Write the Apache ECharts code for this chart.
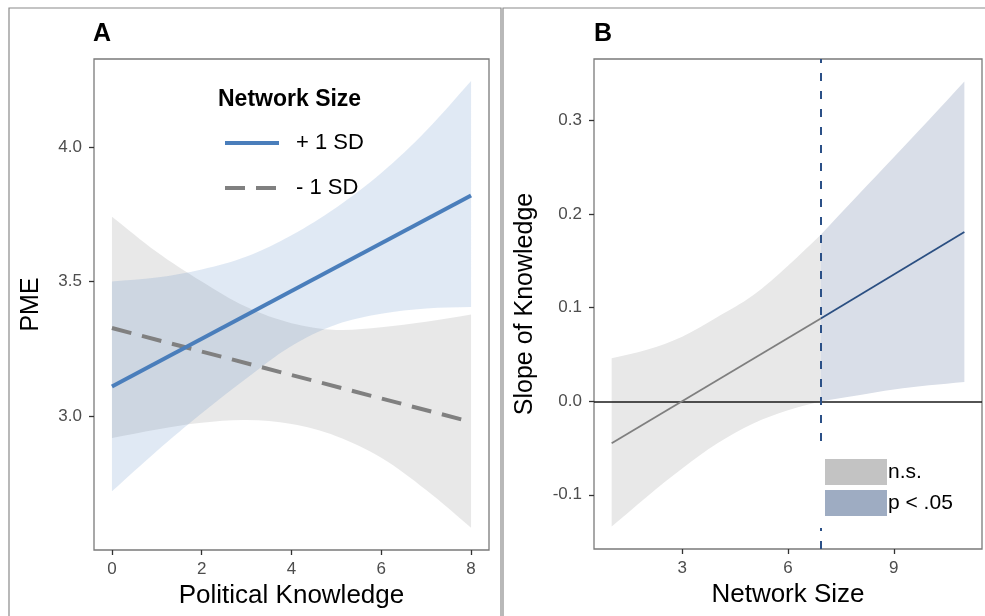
<!DOCTYPE html>
<html lang="en">
<head>
    <meta charset="UTF-8">
    <title>PME and network size</title>
    <script src="https://cdn.jsdelivr.net/npm/echarts@6/dist/echarts.min.js"></script>
    <style>
        html, body {margin: 0; padding: 0; background: #fff;}
        #main {width: 985px; height: 616px;}
    </style>
</head>
<body>
<div id="main"></div>
<script>
    // panel A: PME by political knowledge, +1 SD / -1 SD network size
    var knowledge = [0, 1, 2, 3, 4, 5, 6, 7, 8];
    var plusLo = [2.72, 2.87, 3.01, 3.14, 3.26, 3.34, 3.38, 3.40, 3.405];
    var plusHi = [3.50, 3.515, 3.545, 3.593, 3.672, 3.775, 3.903, 4.06, 4.245];
    var minusLo = [2.918, 2.95, 2.975, 2.985, 2.97, 2.925, 2.845, 2.725, 2.585];
    var minusHi = [3.741, 3.61, 3.50, 3.405, 3.345, 3.32, 3.33, 3.35, 3.377];
    var lineX = [0, 8];
    var plusLine = [3.11, 3.82];
    var minusLine = [3.327, 2.978];

    // panel B: slope of knowledge by network size
    var cutoff = 6.93;
    var sizeNs = [1, 2, 3, 4, 5, 6, 6.93];
    var slopeNsLo = [-0.134, -0.102, -0.072, -0.045, -0.024, -0.0096, 0.0];
    var slopeNsHi = [0.046, 0.055, 0.069, 0.090, 0.113, 0.145, 0.178];
    var sizeSig = [6.93, 8, 9, 10, 11];
    var slopeSigLo = [0.0, 0.0064, 0.0125, 0.017, 0.0207];
    var slopeSigHi = [0.178, 0.221, 0.261, 0.301, 0.342];
    var nsLineX = [1, 6.93];
    var nsLine = [-0.045, 0.0885];
    var sigLineX = [6.93, 11];
    var sigLine = [0.0885, 0.181];

    // tick labels
    var ticksAx = [0, 2, 4, 6, 8];
    var ticksAy = [3.0, 3.5, 4.0];
    var ticksBx = [3, 6, 9];
    var ticksBy = [-0.1, 0.0, 0.1, 0.2, 0.3];

    var font = 'Liberation Sans, Arial, sans-serif';

    function pairs(xs, ys) {
        return xs.map(function (x, i) { return [x, ys[i]]; });
    }

    // confidence band drawn as one smoothed polygon through the axis scales
    function band(name, xs, lo, hi, fill, idx) {
        return {
            type: 'custom', name: name, xAxisIndex: idx, yAxisIndex: idx, silent: true, z: 1,
            itemStyle: {color: fill},
            data: xs.map(function (x, i) { return [x, lo[i], hi[i]]; }),
            encode: {x: 0, y: [1, 2]},
            renderItem: function (params, api) {
                if (params.dataIndex !== 0) return;
                var top = [], bot = [];
                for (var i = 0; i < xs.length; i++) {
                    top.push(api.coord([xs[i], hi[i]]));
                    bot.push(api.coord([xs[i], lo[i]]));
                }
                var n = xs.length;
                // doubled corner points keep the ends square
                var pts = [top[0]].concat(top, [top[n - 1], bot[n - 1]], bot.slice().reverse(), [bot[0]]);
                return {
                    type: 'polygon',
                    shape: {points: pts, smooth: 0.35},
                    style: {fill: fill}
                };
            }
        };
    }

    function xAxis(idx, min, max, ticks, name) {
        return {
            type: 'value', gridIndex: idx, min: min, max: max,
            name: name, nameLocation: 'middle', nameGap: 33,
            nameTextStyle: {fontFamily: font, fontSize: 26, color: '#000'},
            axisLine: {show: false, onZero: false},
            axisTick: {show: true, length: 5, lineStyle: {color: '#333', width: 1.3}, customValues: ticks},
            axisLabel: {fontFamily: font, fontSize: 17, color: '#4d4d4d', margin: 11, customValues: ticks},
            splitLine: {show: false}
        };
    }
    function yAxis(idx, min, max, ticks, name, gap) {
        return {
            type: 'value', gridIndex: idx, min: min, max: max,
            name: name, nameLocation: 'middle', nameGap: gap,
            nameTextStyle: {fontFamily: font, fontSize: 25, color: '#000'},
            axisLine: {show: false, onZero: false},
            axisTick: {show: true, length: 5, lineStyle: {color: '#333', width: 1.3}, customValues: ticks},
            axisLabel: {
                fontFamily: font, fontSize: 17, color: '#4d4d4d', margin: 12, customValues: ticks,
                formatter: function (v) { return v.toFixed(1); }
            },
            splitLine: {show: false}
        };
    }

    var chart = echarts.init(document.getElementById('main'));

    var series = [
        band('gray A', knowledge, minusLo, minusHi, 'rgba(127,127,127,0.18)', 0),
        band('blue A', knowledge, plusLo, plusHi, 'rgba(74,126,187,0.17)', 0),
        band('n.s.', sizeNs, slopeNsLo, slopeNsHi, '#e8e8e8', 1),
        band('p < .05', sizeSig, slopeSigLo, slopeSigHi, '#d9dee8', 1),
        {
            type: 'line', name: '- 1 SD', xAxisIndex: 0, yAxisIndex: 0,
            data: pairs(lineX, minusLine), symbol: 'none',
            itemStyle: {color: '#808080'},
            lineStyle: {color: '#808080', width: 4, type: [20, 11]}, z: 3
        },
        {
            type: 'line', name: '+ 1 SD', xAxisIndex: 0, yAxisIndex: 0,
            data: pairs(lineX, plusLine), symbol: 'none',
            itemStyle: {color: '#4a7ebb'},
            lineStyle: {color: '#4a7ebb', width: 4}, z: 3
        },
        {
            type: 'line', name: 'slope ns', xAxisIndex: 1, yAxisIndex: 1,
            data: pairs(nsLineX, nsLine), symbol: 'none', silent: true,
            lineStyle: {color: '#7f7f7f', width: 1.8}, z: 3,
            markLine: {
                silent: true, symbol: 'none', label: {show: false}, z: 3,
                lineStyle: {color: '#1a1a1a', width: 1.6, type: 'solid'},
                data: [{yAxis: 0}]
            }
        },
        {
            type: 'line', name: 'slope sig', xAxisIndex: 1, yAxisIndex: 1,
            data: pairs(sigLineX, sigLine), symbol: 'none', silent: true,
            lineStyle: {color: '#2b4f82', width: 1.8}, z: 3,
            markLine: {
                silent: true, symbol: 'none', label: {show: false}, z: 3,
                lineStyle: {color: '#2b5087', width: 2, type: [8, 10]},
                data: [{xAxis: cutoff}]
            }
        }
    ];

    var option = {
        animation: false,
        backgroundColor: '#fff',
        title: [
            {text: 'A', left: 93, top: 22, padding: 0, textStyle: {fontFamily: font, fontSize: 25, fontWeight: 'bold', color: '#000'}},
            {text: 'B', left: 594, top: 22, padding: 0, textStyle: {fontFamily: font, fontSize: 25, fontWeight: 'bold', color: '#000'}},
            {text: 'Network Size', left: 218, top: 88, padding: 0, textStyle: {fontFamily: font, fontSize: 23, fontWeight: 'bold', color: '#000'}}
        ],
        legend: [{
            left: 223, top: 132, orient: 'vertical', itemGap: 23, padding: 0,
            itemWidth: 54, itemHeight: 14, selectedMode: false,
            textStyle: {fontFamily: font, fontSize: 22, color: '#000', padding: [0, 0, 0, 12]},
            data: [
                {name: '+ 1 SD', itemStyle: {opacity: 0}, lineStyle: {color: '#4a7ebb', width: 4, type: 'solid'}},
                {name: '- 1 SD', itemStyle: {opacity: 0}, lineStyle: {color: '#808080', width: 4, type: [20, 11]}}
            ]
        }, {
            left: 813, top: 447, orient: 'vertical', itemGap: 5, z: 10,
            itemWidth: 62, itemHeight: 26, selectedMode: false,
            backgroundColor: '#fff', padding: [12, 14, 12, 12], icon: 'rect',
            textStyle: {fontFamily: font, fontSize: 21, color: '#000', padding: [0, 0, 0, -4]},
            data: [
                {name: 'n.s.', itemStyle: {color: '#c3c3c3', borderWidth: 0}},
                {name: 'p < .05', itemStyle: {color: '#9eacc2', borderWidth: 0}}
            ]
        }],
        grid: [
            {left: 94, top: 59, width: 395, height: 491, show: true, borderColor: '#7a7a7a', borderWidth: 1.3, backgroundColor: 'transparent'},
            {left: 594, top: 59, width: 388, height: 490, show: true, borderColor: '#7a7a7a', borderWidth: 1.3, backgroundColor: 'transparent'}
        ],
        xAxis: [
            xAxis(0, -0.4, 8.4, ticksAx, 'Political Knowledge'),
            xAxis(1, 0.5, 11.5, ticksBx, 'Network Size')
        ],
        yAxis: [
            yAxis(0, 2.502, 4.327, ticksAy, 'PME', 50),
            yAxis(1, -0.158, 0.366, ticksBy, 'Slope of Knowledge', 56)
        ],
        graphic: [
            {type: 'rect', shape: {x: 9, y: 8, width: 492, height: 640}, style: {fill: null, stroke: '#8a8a8a', lineWidth: 1.2}, silent: true},
            {type: 'rect', shape: {x: 503, y: 8, width: 500, height: 640}, style: {fill: null, stroke: '#8a8a8a', lineWidth: 1.2}, silent: true}
        ],
        series: series
    };
    chart.setOption(option);
</script>
</body>
</html>
